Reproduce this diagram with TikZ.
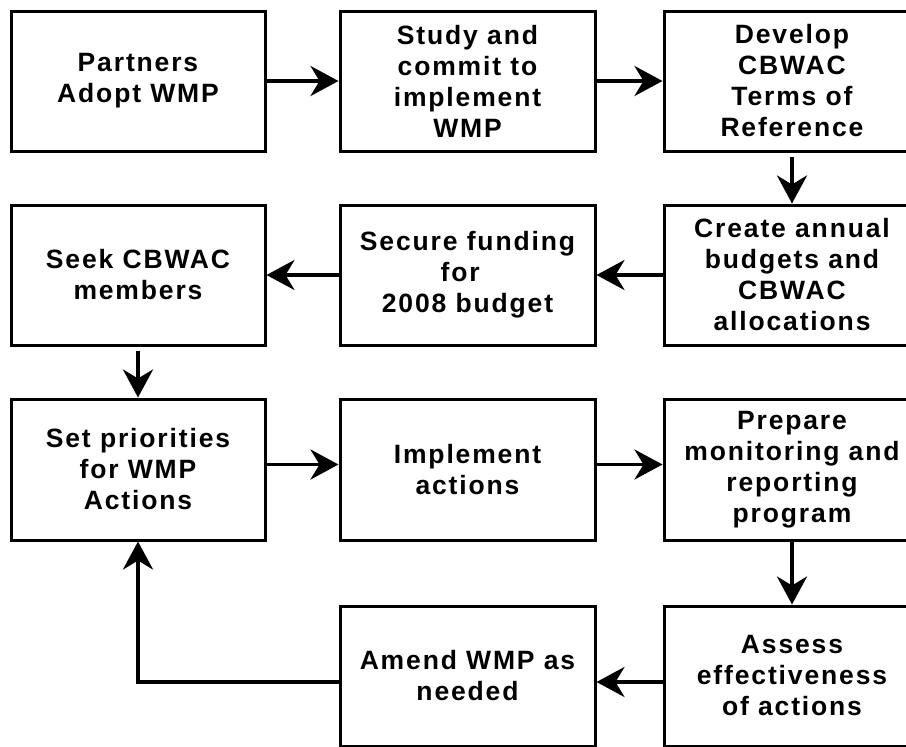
\documentclass[tikz,border=0pt]{standalone}
\usepackage{fontspec}
\setmainfont{Liberation Sans}[LetterSpace=7]
\usetikzlibrary{arrows.meta}
\begin{document}
\begin{tikzpicture}[x=1pt,y=-1pt,
  box/.style={draw=black,line width=3pt,fill=white,align=center,inner sep=0pt,
    font=\bfseries\fontsize{26.5}{31}\selectfont},
  arr/.style={line width=3.8pt,-{Stealth[length=28pt,width=30pt,inset=9pt]}},
  ]
\useasboundingbox (0,0) rectangle (906,747);
% column 1: 11-265, column 2: 340-595, column 3: 664-920
\node[box,minimum width=254pt,minimum height=140pt] (A) at (138,81) {Partners\\Adopt WMP};
\node[box,minimum width=255pt,minimum height=140pt] (B) at (467.5,81) {Study and\\commit to\\implement\\WMP};
\node[box,minimum width=256pt,minimum height=140pt] (C) at (792,81) {Develop\\CBWAC\\Terms of\\Reference};
\node[box,minimum width=256pt,minimum height=140pt] (D) at (792,275) {Create annual\\budgets and\\CBWAC\\allocations};
\node[box,minimum width=255pt,minimum height=140pt] (E) at (467.5,275) {Secure funding\\for\hphantom{x}\\2008 budget};
\node[box,minimum width=254pt,minimum height=140pt] (F) at (138,275) {Seek CBWAC\\members};
\node[box,minimum width=254pt,minimum height=141pt] (G) at (138,469.5) {Set priorities\\for WMP\\Actions};
\node[box,minimum width=255pt,minimum height=141pt] (H) at (467.5,469.5) {Implement\\actions};
\node[box,minimum width=256pt,minimum height=141pt] (I) at (792,469.5) {Prepare\\monitoring and\\reporting\\program};
\node[box,minimum width=256pt,minimum height=140pt] (J) at (792,676) {Assess\\effectiveness\\of actions};
\node[box,minimum width=255pt,minimum height=140pt] (K) at (467.5,676) {Amend WMP as\\needed};
\coordinate (loop) at (138,682);
% connectors (note: y axis points down, so a positive yshift moves up)
\draw[arr] (A) -- (B);
\draw[arr] (B) -- (C);
\draw[arr] ([yshift=-4pt]C.south) -- (D.north);
\draw[arr] (D) -- (E);
\draw[arr] (E) -- (F);
\draw[arr] ([yshift=-4pt]F.south) -- (G.north);
\draw[arr] ([yshift=5pt]G.east) -- ([yshift=5pt]H.west);
\draw[arr] ([yshift=5pt]H.east) -- ([yshift=5pt]I.west);
\draw[arr] (I.south) -- (J.north);
\draw[arr] ([yshift=-6pt]J.west) -- ([yshift=-6pt]K.east);
\draw[arr] ([yshift=-6pt]K.west) -- (loop) -- (G.south);
\end{tikzpicture}
\end{document}
